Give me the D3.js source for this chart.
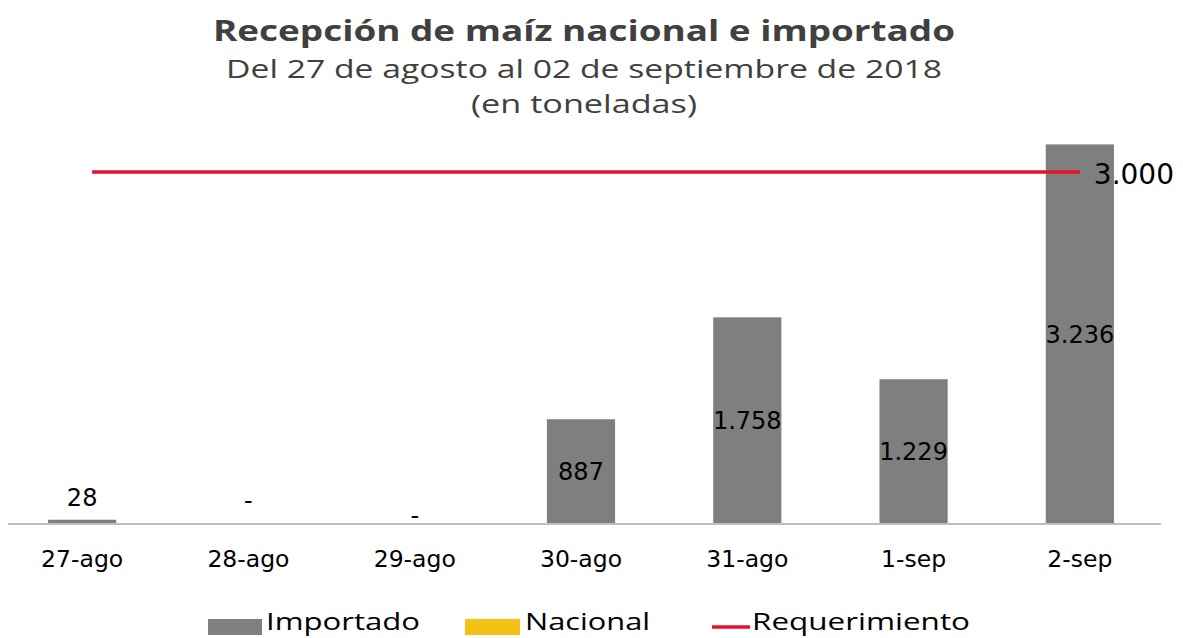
<!DOCTYPE html>
<html><head><meta charset="utf-8">
<script src="https://cdn.jsdelivr.net/npm/d3@7"></script>
<style>html,body{margin:0;padding:0;background:#fff;overflow:hidden}</style>
</head><body>
<svg id="c" width="1183" height="638"></svg>
<script>
const categories = ["27-ago","28-ago","29-ago","30-ago","31-ago","1-sep","2-sep"];
const importado = [28, 0, 0, 887, 1758, 1229, 3236];
const nacional = [0, 0, 0, 0, 0, 0, 0];
const requerimiento = [3000, 3000, 3000, 3000, 3000, 3000, 3000];
const importadoLabels = ["28", "-", "", "887", "1.758", "1.229", "3.236"];
const nacionalLabels = ["", "", "-", "", "", "", ""];
const requerimientoLabel = "3.000";
const legendItems = ["Importado", "Nacional", "Requerimiento"];

const svg = d3.select("#c");
const colors = {imp: "#7f7f7f", nac: "#f5c116", req: "#e8112d"};

const x = d3.scaleBand().domain(categories).range([-1, 1163]).paddingInner(0.59).paddingOuter(0.295);
const y = d3.scaleLinear().domain([0, 3500]).range([523, 523 - 3500 * 0.117]);

// Titles
svg.append("text").attr("x", 584).attr("y", 41).attr("text-anchor", "middle")
  .attr("font-family", "Open Sans").attr("font-weight", "bold").attr("font-size", 28.5)
  .attr("fill", "#404040").attr("textLength", 742).attr("lengthAdjust", "spacingAndGlyphs")
  .text("Recepción de maíz nacional e importado");
svg.append("text").attr("x", 584).attr("y", 78).attr("text-anchor", "middle")
  .attr("font-family", "Open Sans").attr("font-size", 26)
  .attr("fill", "#404040").attr("textLength", 716).attr("lengthAdjust", "spacingAndGlyphs")
  .text("Del 27 de agosto al 02 de septiembre de 2018");
svg.append("text").attr("x", 584).attr("y", 113).attr("text-anchor", "middle")
  .attr("font-family", "Open Sans").attr("font-size", 25)
  .attr("fill", "#404040").attr("textLength", 226).attr("lengthAdjust", "spacingAndGlyphs")
  .text("(en toneladas)");

// Bars
const g = svg.append("g");
g.selectAll("rect.imp").data(categories).join("rect").attr("class", "imp")
  .attr("x", d => x(d)).attr("width", x.bandwidth())
  .attr("y", (d, i) => y(importado[i]))
  .attr("height", (d, i) => y(0) - y(importado[i]))
  .attr("fill", colors.imp);
g.selectAll("rect.nac").data(categories).join("rect").attr("class", "nac")
  .attr("x", d => x(d)).attr("width", x.bandwidth())
  .attr("y", (d, i) => y(importado[i] + nacional[i]))
  .attr("height", (d, i) => y(importado[i]) - y(importado[i] + nacional[i]))
  .attr("fill", colors.nac);

// Axis line
svg.append("line").attr("x1", 8).attr("x2", 1161).attr("y1", y(0) + 1).attr("y2", y(0) + 1)
  .attr("stroke", "#bfbfbf").attr("stroke-width", 2);

// X axis labels
const xAxis = d3.axisBottom(x).tickSize(0).tickPadding(0);
const ax = svg.append("g").attr("transform", `translate(0,${y(0)})`).call(xAxis);
ax.select(".domain").remove();
ax.selectAll("text").attr("font-family", "DejaVu Sans").attr("font-size", 23.5)
  .attr("fill", "#000").attr("dy", null).attr("y", 44);

// Requirement line
const cx0 = d => x(d) + x.bandwidth() / 2;
const line = d3.line()
  .x((d, i) => cx0(d) + (i === 0 ? 10 : 0))
  .y(d => y(requerimiento[categories.indexOf(d)]));
svg.append("path").datum(categories).attr("d", line)
  .attr("fill", "none").attr("stroke", colors.req).attr("stroke-width", 3.5);
svg.append("text").attr("x", cx0(categories[6]) + 14).attr("y", y(3000) + 12)
  .attr("font-family", "DejaVu Sans").attr("font-size", 28).attr("fill", "#000")
  .text(requerimientoLabel);

// Value labels
const lab = svg.append("g").attr("font-family", "DejaVu Sans").attr("font-size", 24)
  .attr("fill", "#000").attr("text-anchor", "middle");
categories.forEach((c, i) => {
  const t = importadoLabels[i];
  if (!t) return;
  const v = importado[i];
  if (v < 300) {
    lab.append("text").attr("x", cx0(c)).attr("y", y(v) - 14).text(t);
  } else {
    lab.append("text").attr("x", cx0(c)).attr("y", (y(v) + y(0)) / 2 + 9).text(t);
  }
});
categories.forEach((c, i) => {
  const t = nacionalLabels[i];
  if (!t) return;
  lab.append("text").attr("x", cx0(c)).attr("y", y(importado[i] + nacional[i]) + 1).text(t);
});

// Legend
const leg = svg.append("g");
const lx = [208, 465, 712];
const tl = [154, 125, 218];
leg.append("rect").attr("x", lx[0]).attr("y", 619).attr("width", 54).attr("height", 16).attr("fill", colors.imp);
leg.append("rect").attr("x", lx[1]).attr("y", 619).attr("width", 55).attr("height", 16).attr("fill", colors.nac);
leg.append("line").attr("x1", lx[2]).attr("x2", lx[2] + 38).attr("y1", 627).attr("y2", 627)
  .attr("stroke", colors.req).attr("stroke-width", 3.5);
const tx = [266, 525, 752];
legendItems.forEach((t, i) => {
  leg.append("text").attr("x", tx[i]).attr("y", 630).attr("font-family", "Open Sans")
    .attr("font-size", 24).attr("fill", "#000").attr("textLength", tl[i])
    .attr("lengthAdjust", "spacingAndGlyphs").text(t);
});
</script>
</body></html>
